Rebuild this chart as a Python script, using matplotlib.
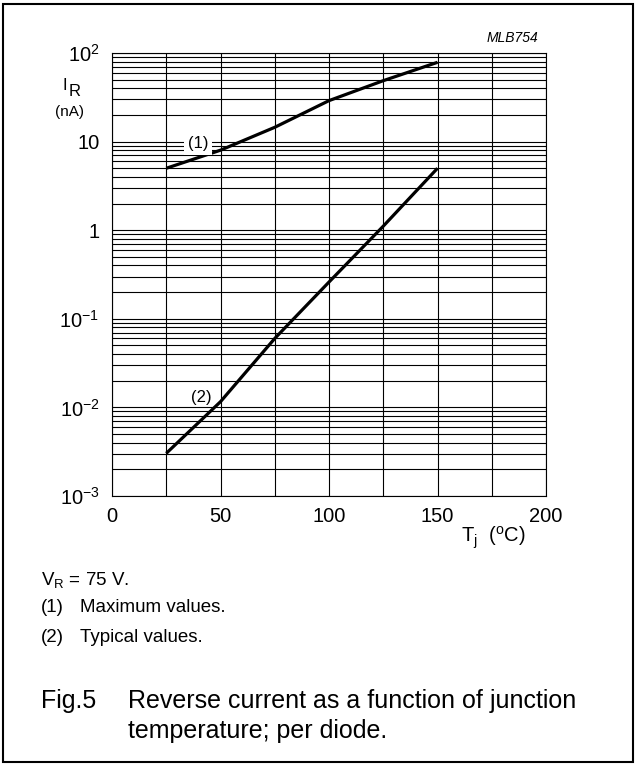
import matplotlib
matplotlib.use('Agg')
import matplotlib.pyplot as plt
from matplotlib.patches import Rectangle
from matplotlib.ticker import LogLocator, NullFormatter, FixedLocator

plt.rcParams['font.family'] = ['Liberation Sans', 'DejaVu Sans']
plt.rcParams['mathtext.fontset'] = 'custom'
plt.rcParams['mathtext.rm'] = 'Liberation Sans'
plt.rcParams['mathtext.it'] = 'Liberation Sans:italic'

# data
temp = [25, 50, 75, 100, 125, 150]
ir_max = [5.0, 8.0, 14.5, 29, 48.7, 78.5]        # (1) maximum values, nA
ir_typ = [0.00303, 0.0116, 0.060, 0.26, 1.11, 5.0]  # (2) typical values, nA

x_ticks = [0, 50, 100, 150, 200]
y_ticks = [1e-3, 1e-2, 1e-1, 1, 10, 100]
y_tick_labels = ['$10^{-3}$', '$10^{-2}$', '$10^{-1}$', '1', '10', '$10^{2}$']

W, H = 641, 777
fig = plt.figure(figsize=(W / 100, H / 100), dpi=100)


def fx(x):
    return x / W


def fy(y):
    return 1 - y / H


# outer frame
fig.patches.append(Rectangle((fx(3), fy(762)), fx(630), 758 / H, transform=fig.transFigure,
                             fill=False, edgecolor='black', linewidth=1.5))

left, right, top, bottom = 112, 546, 53, 496
ax = fig.add_axes([fx(left), fy(bottom), (right - left) / W, (bottom - top) / H])
ax.set_yscale('log')
ax.set_xlim(0, 200)
ax.set_ylim(1e-3, 1e2)

ax.xaxis.set_major_locator(FixedLocator(x_ticks))
ax.xaxis.set_minor_locator(FixedLocator([25, 75, 125, 175]))
ax.yaxis.set_major_locator(FixedLocator(y_ticks))
ax.yaxis.set_minor_locator(LogLocator(base=10, subs=range(2, 10)))
ax.yaxis.set_minor_formatter(NullFormatter())
ax.set_yticklabels(y_tick_labels)
ax.tick_params(which='both', length=0, labelsize=14.5)
ax.tick_params(axis='x', pad=8)
ax.tick_params(axis='y', pad=9)
ax.grid(which='both', color='black', linewidth=0.8)
for s in ax.spines.values():
    s.set_linewidth(0.8)

ax.plot(temp, ir_max, color='black', lw=2.3, solid_capstyle='butt')
ax.plot(temp, ir_typ, color='black', lw=2.3, solid_capstyle='butt')

ax.text(39.6, 9.4, '(1)', fontsize=12, ha='center', va='center',
        bbox=dict(facecolor='white', edgecolor='none', pad=2.5))
ax.text(41.0, 0.0131, '(2)', fontsize=12, ha='center', va='center')

# axis titles
fig.text(fx(62), fy(85), 'I', fontsize=12, ha='left', va='center')
fig.text(fx(69), fy(91), 'R', fontsize=12, ha='left', va='center')
fig.text(fx(69), fy(112), '(nA)', fontsize=11, ha='center', va='center')
fig.text(fx(461), fy(538), '$\\mathregular{T_j\\ \\ (^oC)}$', fontsize=14.5, ha='left', va='center')
fig.text(fx(538), fy(38), 'MLB754', fontsize=10, style='italic', ha='right', va='center')

# notes and caption
fig.text(fx(41), fy(580), '$\\mathregular{V_R}$ = 75 V.', fontsize=13.5, va='center')
fig.text(fx(41), fy(608), '(1)', fontsize=13.5, va='center')
fig.text(fx(80), fy(608), 'Maximum values.', fontsize=13.5, va='center')
fig.text(fx(41), fy(637), '(2)', fontsize=13.5, va='center')
fig.text(fx(80), fy(637), 'Typical values.', fontsize=13.5, va='center')
fig.text(fx(41), fy(701), 'Fig.5', fontsize=18, va='center')
fig.text(fx(128), fy(701), 'Reverse current as a function of junction', fontsize=18, va='center')
fig.text(fx(128), fy(731), 'temperature; per diode.', fontsize=18, va='center')

fig.savefig('out.png', dpi=100)
